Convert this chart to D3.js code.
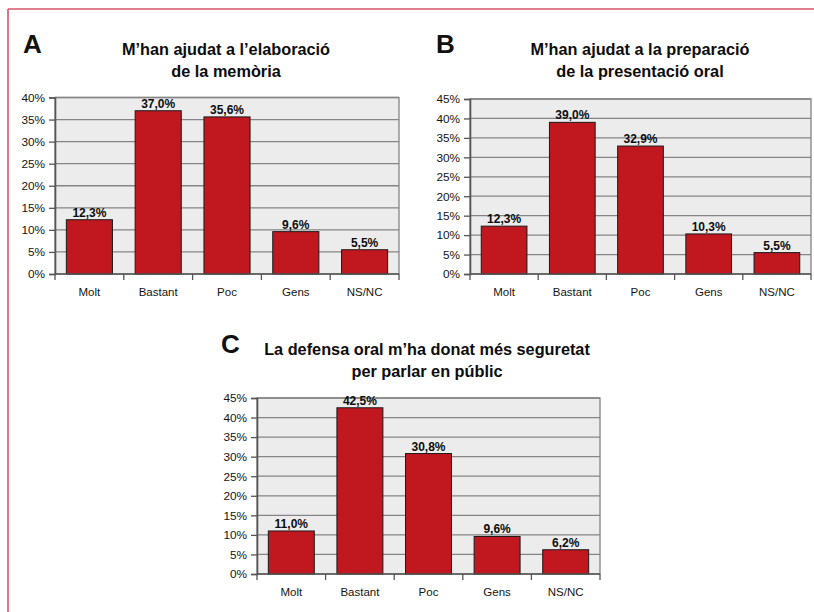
<!DOCTYPE html>
<html>
<head>
<meta charset="utf-8">
<script src="https://cdn.jsdelivr.net/npm/d3@7/dist/d3.min.js"></script>
<style>
  html, body { margin: 0; padding: 0; background: #fff; }
  svg { display: block; font-family: "Liberation Sans", Arial, Helvetica, sans-serif; }
</style>
</head>
<body>
<svg id="chart" width="814" height="612"></svg>
<script>
// ---- data ----
const categories = ["Molt", "Bastant", "Poc", "Gens", "NS/NC"];
const valuesA = [12.3, 37.0, 35.6, 9.6, 5.5];
const valuesB = [12.3, 39.0, 32.9, 10.3, 5.5];
const valuesC = [11.0, 42.5, 30.8, 9.6, 6.2];
const yTicksA = [0, 5, 10, 15, 20, 25, 30, 35, 40];
const yTicksBC = [0, 5, 10, 15, 20, 25, 30, 35, 40, 45];
const titleA = ["M\u2019han ajudat a l\u2019elaboració", "de la memòria"];
const titleB = ["M\u2019han ajudat a la preparació", "de la presentació oral"];
const titleC = ["La defensa oral m\u2019ha donat més seguretat", "per parlar en públic"];
const letters = ["A", "B", "C"];

const svg = d3.select("#chart");
const caLocale = d3.formatLocale({decimal: ",", thousands: ".", grouping: [3], currency: ["", "€"]});
const fmtVal = caLocale.format(".1f");

// frame
svg.append("line").attr("x1", 8).attr("y1", 9).attr("x2", 814).attr("y2", 9)
  .attr("stroke", "#d6566a").attr("stroke-width", 1.6);
svg.append("line").attr("x1", 8).attr("y1", 9).attr("x2", 8).attr("y2", 612)
  .attr("stroke", "#d6566a").attr("stroke-width", 1.6);

function drawChart(cfg) {
  const g = svg.append("g");
  const x = d3.scaleBand().domain(categories).range([cfg.left, cfg.right]).paddingInner(0.33).paddingOuter(0.165);
  const y = d3.scaleLinear().domain([0, cfg.max]).range([cfg.bottom, cfg.top]);

  // letter
  g.append("text").attr("x", cfg.letterX).attr("y", cfg.letterY)
    .attr("font-size", 26).attr("font-weight", "bold").attr("fill", "#111").text(cfg.letter);
  // title
  cfg.title.forEach((t, i) => {
    g.append("text").attr("x", cfg.titleX).attr("y", cfg.titleY + i * 22)
      .attr("text-anchor", "middle").attr("font-size", 16.3).attr("font-weight", "bold")
      .attr("fill", "#0d0d0d").text(t);
  });

  // plot background
  g.append("rect").attr("x", cfg.left).attr("y", cfg.top)
    .attr("width", cfg.right - cfg.left).attr("height", cfg.bottom - cfg.top)
    .attr("fill", "#ececec").attr("stroke", "#858585").attr("stroke-width", 1.3);

  // gridlines
  g.append("g").selectAll("line").data(cfg.ticks.filter(d => d > 0)).join("line")
    .attr("x1", cfg.left).attr("x2", cfg.right)
    .attr("y1", d => y(d)).attr("y2", d => y(d))
    .attr("stroke", "#858585").attr("stroke-width", 1.3);

  // bars
  g.append("g").selectAll("rect").data(cfg.values).join("rect")
    .attr("x", (d, i) => x(categories[i]))
    .attr("y", d => y(d))
    .attr("width", x.bandwidth())
    .attr("height", d => cfg.bottom - y(d))
    .attr("fill", "#c1171f").attr("stroke", "#1a1a1a").attr("stroke-width", 1);

  // value labels
  g.append("g").selectAll("text").data(cfg.values).join("text")
    .attr("x", (d, i) => x(categories[i]) + x.bandwidth() / 2)
    .attr("y", d => y(d) - 3)
    .attr("text-anchor", "middle").attr("font-size", 12).attr("font-weight", "bold")
    .attr("fill", "#0d0d0d").text(d => fmtVal(d) + "%");

  // y axis
  const yAxis = d3.axisLeft(y).tickValues(cfg.ticks).tickFormat(d => d + "%").tickSize(6).tickPadding(4);
  const ya = g.append("g").attr("transform", `translate(${cfg.left},0)`).call(yAxis);
  ya.select(".domain").attr("stroke", "#555").attr("stroke-width", 1.6);
  ya.selectAll(".tick line").attr("stroke", "#555").attr("stroke-width", 1.3);
  ya.selectAll(".tick text").attr("font-size", 11.8).attr("fill", "#151515")
    .attr("font-family", "\"Liberation Sans\", Arial, sans-serif");

  // x axis
  const xa = g.append("g").attr("transform", `translate(0,${cfg.bottom})`);
  xa.append("line").attr("x1", cfg.left).attr("x2", cfg.right).attr("y1", 0).attr("y2", 0)
    .attr("stroke", "#555").attr("stroke-width", 1.6);
  const step = x.step();
  const bounds = d3.range(categories.length + 1).map(i => cfg.left + i * step);
  xa.selectAll("line.tk").data(bounds).join("line").attr("class", "tk")
    .attr("x1", d => d).attr("x2", d => d).attr("y1", 0).attr("y2", 6)
    .attr("stroke", "#555").attr("stroke-width", 1.3);
  xa.selectAll("text").data(categories).join("text")
    .attr("x", d => x(d) + x.bandwidth() / 2).attr("y", 22)
    .attr("text-anchor", "middle").attr("font-size", 11.5).attr("fill", "#151515").text(d => d);
}

drawChart({letter: letters[0], letterX: 23, letterY: 53, title: titleA, titleX: 226, titleY: 55,
  values: valuesA, max: 40, ticks: yTicksA, left: 55, right: 399, top: 97.5, bottom: 274});
drawChart({letter: letters[1], letterX: 436, letterY: 53, title: titleB, titleX: 640, titleY: 55,
  values: valuesB, max: 45, ticks: yTicksBC, left: 470, right: 811, top: 99, bottom: 274});
drawChart({letter: letters[2], letterX: 221, letterY: 353, title: titleC, titleX: 427, titleY: 355,
  values: valuesC, max: 45, ticks: yTicksBC, left: 257, right: 600, top: 398, bottom: 574});
</script>
</body>
</html>
